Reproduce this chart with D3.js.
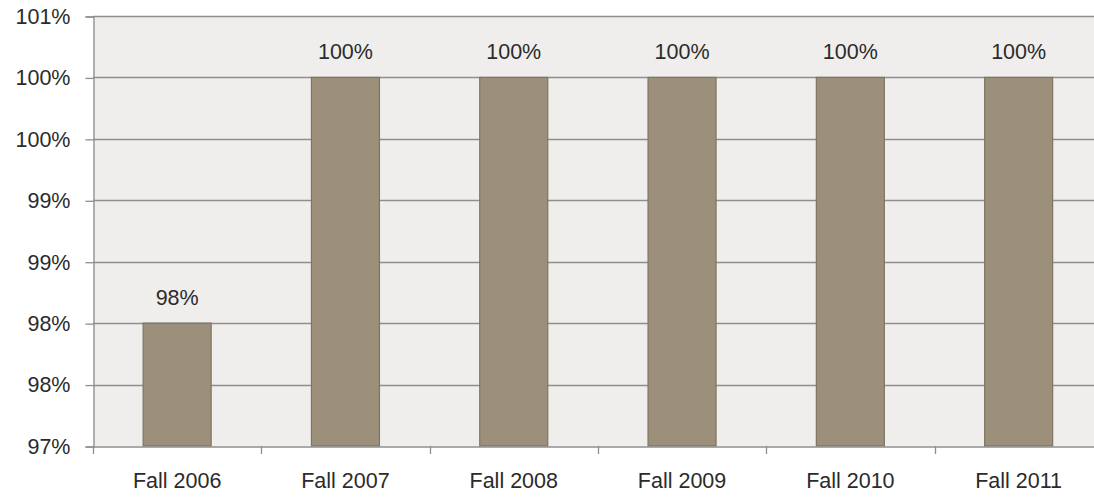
<!DOCTYPE html>
<html>
<head>
<meta charset="utf-8">
<script src="https://cdn.jsdelivr.net/npm/d3@7"></script>
<style>
  html, body { margin: 0; padding: 0; background: #ffffff; }
  svg { display: block; }
  text { font-family: "Liberation Sans", Arial, sans-serif; fill: #2b2b2b; }
</style>
</head>
<body>
<svg id="chart" width="1094" height="497"></svg>
<script>
const categories = ["Fall 2006", "Fall 2007", "Fall 2008", "Fall 2009", "Fall 2010", "Fall 2011"];
const values = [0.98, 1.00, 1.00, 1.00, 1.00, 1.00];
const dataLabels = ["98%", "100%", "100%", "100%", "100%", "100%"];
const yTickValues = [0.97, 0.975, 0.98, 0.985, 0.99, 0.995, 1.00, 1.005];
const yTickLabels = ["97%", "98%", "98%", "99%", "99%", "100%", "100%", "101%"];

(function () {
const svg = d3.select("#chart");
const pLeft = 93, pTop = 16, pBottom = 446, pRight = 93 + 6 * 168.3;
const fs = 21.5;

const x = d3.scaleBand().domain(categories).range([pLeft, pRight])
  .paddingInner(0.596).paddingOuter(0.298);
const y = d3.scaleLinear().domain([0.97, 1.005]).range([pBottom, pTop]);

// plot background
svg.append("rect").attr("x", pLeft).attr("y", pTop)
  .attr("width", pRight - pLeft).attr("height", pBottom - pTop)
  .attr("fill", "#efeeec");

// gridlines
svg.append("g").selectAll("line").data(yTickValues.slice(1)).join("line")
  .attr("x1", pLeft).attr("x2", pRight)
  .attr("y1", d => Math.round(y(d)) + 0.5).attr("y2", d => Math.round(y(d)) + 0.5)
  .attr("stroke", "#8e8e8e").attr("stroke-width", 1.3);

// bars
svg.append("g").selectAll("rect").data(values).join("rect")
  .attr("x", (d, i) => x(categories[i]))
  .attr("y", d => y(d))
  .attr("width", x.bandwidth())
  .attr("height", d => pBottom - y(d))
  .attr("fill", "#9c907a")
  .attr("stroke", "#7e7462").attr("stroke-width", 1.2);

// data labels
svg.append("g").selectAll("text").data(values).join("text")
  .attr("x", (d, i) => x(categories[i]) + x.bandwidth() / 2)
  .attr("y", d => y(d) - 18)
  .attr("text-anchor", "middle")
  .attr("font-size", fs)
  .text((d, i) => dataLabels[i]);

// y axis
const yAxis = d3.axisLeft(y).tickValues(yTickValues)
  .tickFormat((d, i) => yTickLabels[i]).tickSize(8).tickPadding(15);
const gy = svg.append("g").attr("transform", `translate(${pLeft + 0.5},0.5)`).call(yAxis);
gy.select(".domain").attr("stroke", "#8e8e8e").attr("stroke-width", 1.3);
gy.selectAll(".tick line").attr("stroke", "#8e8e8e").attr("stroke-width", 1.3);
gy.selectAll(".tick text").attr("font-size", fs).attr("font-family", "Liberation Sans, Arial, sans-serif").attr("fill", "#2b2b2b");

// x axis
const xAxis = d3.axisBottom(x).tickSize(0).tickPadding(26);
const gx = svg.append("g").attr("transform", `translate(0,${pBottom + 0.5})`).call(xAxis);
gx.select(".domain").attr("stroke", "#8e8e8e").attr("stroke-width", 1.3);
gx.selectAll(".tick text").attr("font-size", fs).attr("font-family", "Liberation Sans, Arial, sans-serif").attr("fill", "#2b2b2b");

// category boundary ticks
const boundaries = d3.range(categories.length + 1).map(i => pLeft + i * x.step());
svg.append("g").selectAll("line").data(boundaries).join("line")
  .attr("x1", d => Math.round(d) + 0.5).attr("x2", d => Math.round(d) + 0.5)
  .attr("y1", pBottom).attr("y2", pBottom + 8)
  .attr("stroke", "#8e8e8e").attr("stroke-width", 1.3);
})();
</script>
</body>
</html>
